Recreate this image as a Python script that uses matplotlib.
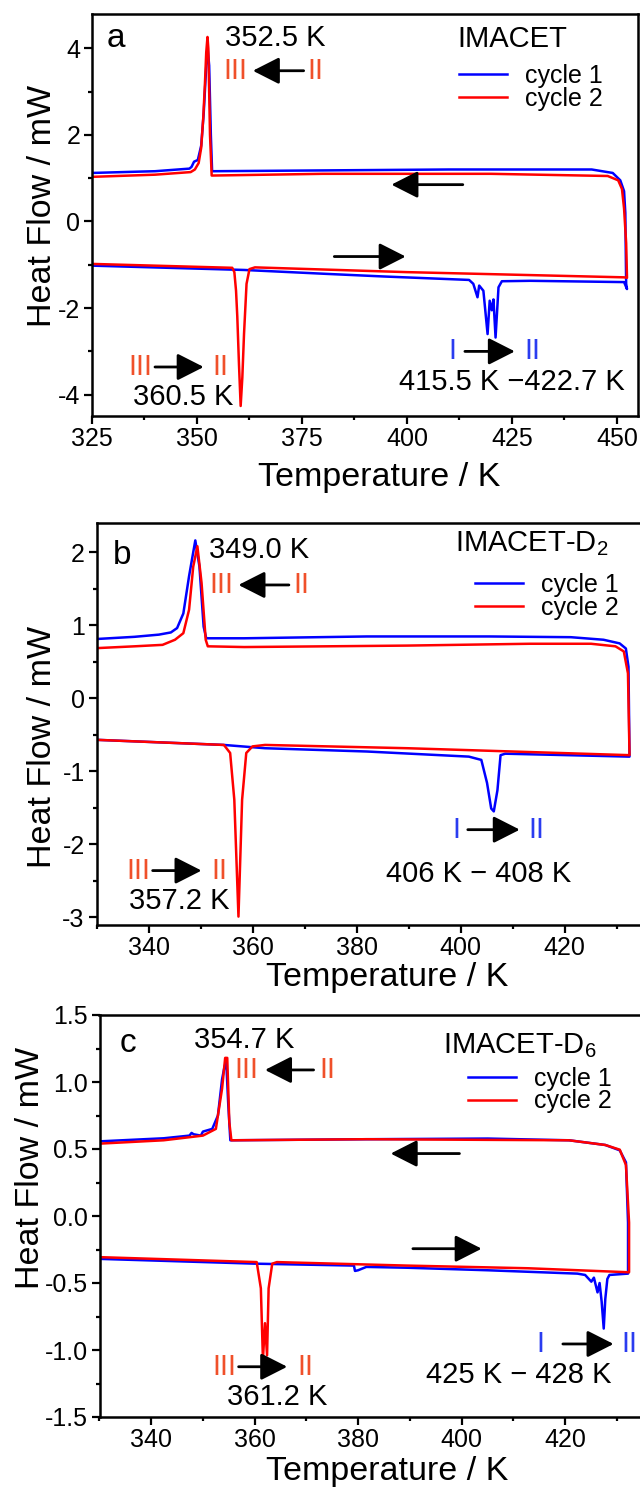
import matplotlib
matplotlib.use("Agg")
import matplotlib.pyplot as plt
from matplotlib.ticker import MultipleLocator, FormatStrFormatter

plt.rcParams['font.family'] = ['Liberation Sans', 'DejaVu Sans']
plt.rcParams['mathtext.default'] = 'regular'
plt.rcParams['axes.unicode_minus'] = False

# ---------------- Panel a : IMACET ----------------
a_c1_heat_T = [325, 361.3, 380.8, 394.4, 414.8, 415.8, 416.8, 417.2, 418.2, 419.2, 419.7, 420.2, 420.6, 421.1, 421.8, 422.6, 429.4, 451.7, 452.4]
a_c1_heat_H = [-1.02, -1.12, -1.21, -1.27, -1.35, -1.44, -1.75, -1.48, -1.6, -2.6, -1.83, -2.05, -1.8, -2.68, -1.52, -1.38, -1.37, -1.40, -1.56]
a_c1_cool_T = [452.2, 452.0, 451.7, 450.8, 449.0, 444.0, 410.0, 353.6, 353.3, 352.9, 352.5, 352.1, 351.6, 351.0, 350.2, 349.3, 348.7, 348.2, 340.0, 336.0, 325.0]
a_c1_cool_H = [-1.44, 0.2, 0.7, 0.95, 1.12, 1.2, 1.2, 1.16, 2.0, 3.6, 4.05, 3.4, 2.5, 1.75, 1.42, 1.38, 1.26, 1.22, 1.16, 1.15, 1.12]
a_c2_heat_T = [325, 358.4, 358.9, 359.3, 359.6, 360.0, 360.4, 360.8, 361.2, 361.8, 362.5, 363.8, 400, 451.7, 452.4]
a_c2_heat_H = [-0.98, -1.07, -1.17, -1.6, -2.2, -3.3, -4.26, -3.6, -2.6, -1.44, -1.1, -1.06, -1.17, -1.29, -1.3]
a_c2_cool_T = [452.4, 452.2, 451.7, 451.2, 450.3, 447.8, 420.0, 380.0, 353.5, 353.1, 352.7, 352.5, 352.2, 351.9, 351.5, 351.0, 350.4, 349.5, 348.5, 340.0, 325.0]
a_c2_cool_H = [-1.3, -0.5, 0.3, 0.75, 0.95, 1.05, 1.1, 1.1, 1.06, 2.0, 4.0, 4.26, 3.9, 3.2, 2.4, 1.7, 1.35, 1.2, 1.14, 1.08, 1.03]

# ---------------- Panel b : IMACET-D2 ----------------
b_c1_heat_T = [330, 354.5, 362.4, 382, 401.6, 404, 405.1, 405.9, 406.4, 407.1, 407.7, 408.6, 432.5]
b_c1_heat_H = [-0.57, -0.64, -0.685, -0.73, -0.8, -0.845, -1.16, -1.51, -1.55, -1.26, -0.78, -0.76, -0.8]
b_c1_cool_T = [432.5, 432.3, 431.8, 430.6, 427.5, 421.2, 405.5, 382, 358.4, 351.1, 350.6, 349.8, 349.0, 347.8, 346.7, 345.5, 344.3, 342, 337.3, 330]
b_c1_cool_H = [-0.8, 0.43, 0.68, 0.75, 0.8, 0.835, 0.845, 0.845, 0.82, 0.82, 0.98, 1.8, 2.16, 1.67, 1.16, 0.96, 0.9, 0.87, 0.84, 0.81]
b_c2_heat_T = [330, 354.5, 355.7, 356.5, 357.3, 358.0, 358.8, 360.0, 362.4, 389.8, 432.5]
b_c2_heat_H = [-0.57, -0.64, -0.75, -1.39, -2.99, -1.39, -0.75, -0.66, -0.64, -0.685, -0.78]
b_c2_cool_T = [432.5, 432.2, 431.4, 429.8, 425.1, 413.3, 389.8, 358.4, 351.4, 351.0, 350.2, 349.4, 348.6, 347.8, 346.7, 345.1, 342.7, 337.3, 330]
b_c2_cool_H = [-0.78, 0.34, 0.64, 0.71, 0.745, 0.745, 0.72, 0.70, 0.71, 0.8, 1.58, 2.08, 1.8, 1.21, 0.89, 0.8, 0.73, 0.71, 0.685]

# ---------------- Panel c : IMACET-D6 ----------------
c_c1_heat_T = [330, 360.4, 379.2, 379.4, 380, 381.6, 389.4, 405.1, 422.4, 423.9, 425.1, 425.6, 426.3, 426.7, 427.1, 427.5, 427.8, 428.2, 428.6, 432.2]
c_c1_heat_H = [-0.32, -0.356, -0.37, -0.41, -0.405, -0.38, -0.386, -0.405, -0.43, -0.44, -0.49, -0.46, -0.57, -0.5, -0.64, -0.84, -0.62, -0.47, -0.44, -0.43]
c_c1_cool_T = [432.2, 432.2, 431.8, 430.6, 427.8, 420.8, 405.1, 381.6, 355.3, 354.9, 354.5, 354.1, 353.7, 352.9, 351.8, 350.0, 349.6, 348.2, 347.8, 347.4, 342.4, 330]
c_c1_cool_H = [-0.43, -0.05, 0.4, 0.49, 0.53, 0.565, 0.578, 0.573, 0.565, 0.83, 1.16, 1.1, 1.02, 0.75, 0.65, 0.63, 0.6, 0.61, 0.62, 0.6, 0.58, 0.557]
c_c2_heat_T = [330, 360.4, 361.2, 361.6, 362.0, 362.4, 362.7, 363.4, 364.3, 389.4, 412.9, 432.4]
c_c2_heat_H = [-0.307, -0.344, -0.54, -1.07, -0.8, -1.04, -0.54, -0.356, -0.344, -0.37, -0.39, -0.42]
c_c2_cool_T = [432.4, 432.4, 431.8, 430.6, 427.8, 420.8, 381.6, 355.5, 355.1, 354.7, 354.3, 353.7, 352.5, 350.0, 342.4, 330]
c_c2_cool_H = [-0.42, -0.05, 0.38, 0.495, 0.53, 0.565, 0.573, 0.565, 0.7, 1.18, 1.18, 0.95, 0.65, 0.6, 0.565, 0.54]

series_labels = ['cycle 1', 'cycle 2']
sample_names = ['IMACET', 'IMACET-D$_2$', 'IMACET-D$_6$']
panel_letters = ['a', 'b', 'c']

BLUE = '#0000ff'
RED = '#ff0000'
TXT_RED = '#f0502a'
TXT_BLUE = '#2a3cf0'
LW = 1.8
TICK_FS = 18
LAB_FS = 24.5
ANN_FS = 21
LEG_FS = 18
LET_FS = 24

fig = plt.figure(figsize=(6.4, 14.93), dpi=100)
W, H = 640.0, 1493.0

def add_axes(left_px, right_px, top_px, bottom_px):
    return fig.add_axes([left_px / W, 1 - bottom_px / H, (right_px - left_px) / W, (bottom_px - top_px) / H])

ax_a = add_axes(92, 637.5, 14, 415.5)
ax_b = add_axes(96.5, 642, 522.5, 925)
ax_c = add_axes(99.5, 642, 1015, 1417)

def loop(ax, heat_T, heat_H, cool_T, cool_H, color, label):
    T = list(heat_T) + list(cool_T)
    Hh = list(heat_H) + list(cool_H)
    ax.plot(T, Hh, color=color, lw=LW, label=label, solid_joinstyle='round')

def style(ax, xlim, ylim, xmaj, xmin, ymaj, ymin, xlab_xy, ylab_xy, yfmt=None):
    ax.set_xlim(*xlim)
    ax.set_ylim(*ylim)
    ax.xaxis.set_major_locator(MultipleLocator(xmaj))
    ax.xaxis.set_minor_locator(MultipleLocator(xmin))
    ax.yaxis.set_major_locator(MultipleLocator(ymaj))
    ax.yaxis.set_minor_locator(MultipleLocator(ymin))
    ax.tick_params(which='both', direction='out', top=False, right=False, width=1.6, labelsize=TICK_FS)
    ax.tick_params(which='major', length=5.5)
    ax.tick_params(which='minor', length=3.2)
    ax.tick_params(axis='x', which='major', pad=2.5)
    ax.tick_params(axis='y', which='major', pad=3)
    for s in ax.spines.values():
        s.set_linewidth(1.8)
    ax.set_xlabel('Temperature / K', fontsize=LAB_FS)
    ax.set_ylabel('Heat Flow / mW', fontsize=LAB_FS)
    ax.xaxis.set_label_coords(*xlab_xy)
    ax.yaxis.set_label_coords(*ylab_xy)
    if yfmt:
        ax.yaxis.set_major_formatter(FormatStrFormatter(yfmt))

def arrow(ax, x0, x1, y):
    ax.annotate('', xy=(x1, y), xytext=(x0, y),
                arrowprops=dict(arrowstyle='-|>,head_length=0.65,head_width=0.33', lw=2.0,
                                color='k', shrinkA=0, shrinkB=0, mutation_scale=25))

def phase(ax, lab0, x_lab0, x0, x1, lab1, x_lab1, y, color):
    ax.text(x_lab0, y, lab0, color=color, fontsize=ANN_FS, ha='center', va='center')
    arrow(ax, x0, x1, y)
    ax.text(x_lab1, y, lab1, color=color, fontsize=ANN_FS, ha='center', va='center')

def legend(ax, title, title_xy, anchor):
    ax.text(title_xy[0], title_xy[1], title, transform=ax.transAxes, fontsize=ANN_FS,
            ha='left', va='baseline')
    ax.legend(loc='center left', bbox_to_anchor=anchor, frameon=False,
              fontsize=LEG_FS, handlelength=1.9, handletextpad=0.72, labelspacing=-0.05,
              borderpad=0, borderaxespad=0)

# ---- panel a ----
loop(ax_a, a_c1_heat_T, a_c1_heat_H, a_c1_cool_T, a_c1_cool_H, BLUE, series_labels[0])
loop(ax_a, a_c2_heat_T, a_c2_heat_H, a_c2_cool_T, a_c2_cool_H, RED, series_labels[1])
style(ax_a, (325, 454.9), (-4.48, 4.79), 25, 12.5, 2, 1, (0.526, -0.1146), (-0.062, 0.522))
ax_a.text(330.7, 4.22, panel_letters[0], fontsize=LET_FS, ha='center', va='center')
ax_a.text(368.6, 4.24, '352.5 K', fontsize=ANN_FS, ha='center', va='center')
phase(ax_a, 'III', 359.2, 375.4, 363.3, 'II', 378.1, 3.48, TXT_RED)
arrow(ax_a, 413.3, 396.3, 0.85)
arrow(ax_a, 382.7, 399.7, -0.81)
phase(ax_a, 'III', 336.6, 340.0, 351.6, 'II', 355.5, -3.36, TXT_RED)
ax_a.text(346.8, -4.06, '360.5 K', fontsize=ANN_FS, ha='center', va='center')
phase(ax_a, 'I', 410.9, 413.8, 425.7, 'II', 429.9, -3.0, TXT_BLUE)
ax_a.text(425.0, -3.70, '415.5 K \u2212422.7 K', fontsize=ANN_FS, ha='center', va='center')
legend(ax_a, sample_names[0], (0.6695, 0.9186), (0.673, 0.817))

# ---- panel b ----
loop(ax_b, b_c1_heat_T, b_c1_heat_H, b_c1_cool_T, b_c1_cool_H, BLUE, series_labels[0])
loop(ax_b, b_c2_heat_T, b_c2_heat_H, b_c2_cool_T, b_c2_cool_H, RED, series_labels[1])
style(ax_b, (330, 434.9), (-3.105, 2.405), 20, 10, 1, 0.5, (0.532, -0.0907), (-0.0706, 0.443))
ax_b.text(334.9, 1.96, panel_letters[1], fontsize=LET_FS, ha='center', va='center')
ax_b.text(361.2, 2.03, '349.0 K', fontsize=ANN_FS, ha='center', va='center')
phase(ax_b, 'III', 354.1, 367.0, 357.3, 'II', 369.4, 1.55, TXT_RED)
phase(ax_b, 'III', 338.0, 340.8, 350.2, 'II', 353.7, -2.36, TXT_RED)
ax_b.text(345.9, -2.77, '357.2 K', fontsize=ANN_FS, ha='center', va='center')
phase(ax_b, 'I', 399.2, 401.4, 411.4, 'II', 414.5, -1.8, TXT_BLUE)
ax_b.text(403.5, -2.4, '406 K \u2212 408 K', fontsize=ANN_FS, ha='center', va='center')
legend(ax_b, sample_names[1], (0.657, 0.9275), (0.694, 0.816))

# ---- panel c ----
loop(ax_c, c_c1_heat_T, c_c1_heat_H, c_c1_cool_T, c_c1_cool_H, BLUE, series_labels[0])
loop(ax_c, c_c2_heat_T, c_c2_heat_H, c_c2_cool_T, c_c2_cool_H, RED, series_labels[1])
style(ax_c, (330, 434.9), (-1.5, 1.5), 20, 10, 0.5, 0.25, (0.531, -0.098), (-0.0986, 0.62), '%.1f')
ax_c.text(335.5, 1.29, panel_letters[2], fontsize=LET_FS, ha='center', va='center')
ax_c.text(358.0, 1.31, '354.7 K', fontsize=ANN_FS, ha='center', va='center')
phase(ax_c, 'III', 358.4, 371.4, 362.0, 'II', 374.1, 1.09, TXT_RED)
arrow(ax_c, 399.6, 386.3, 0.466)
arrow(ax_c, 390.6, 403.9, -0.244)
phase(ax_c, 'III', 354.1, 356.9, 366.3, 'II', 369.8, -1.125, TXT_RED)
ax_c.text(364.3, -1.35, '361.2 K', fontsize=ANN_FS, ha='center', va='center')
phase(ax_c, 'I', 415.3, 419.6, 429.4, 'II', 432.5, -0.955, TXT_BLUE)
ax_c.text(411.0, -1.19, '425 K \u2212 428 K', fontsize=ANN_FS, ha='center', va='center')
legend(ax_c, sample_names[2], (0.633, 0.9055), (0.680, 0.8134))

fig.savefig('out.png', dpi=100)
